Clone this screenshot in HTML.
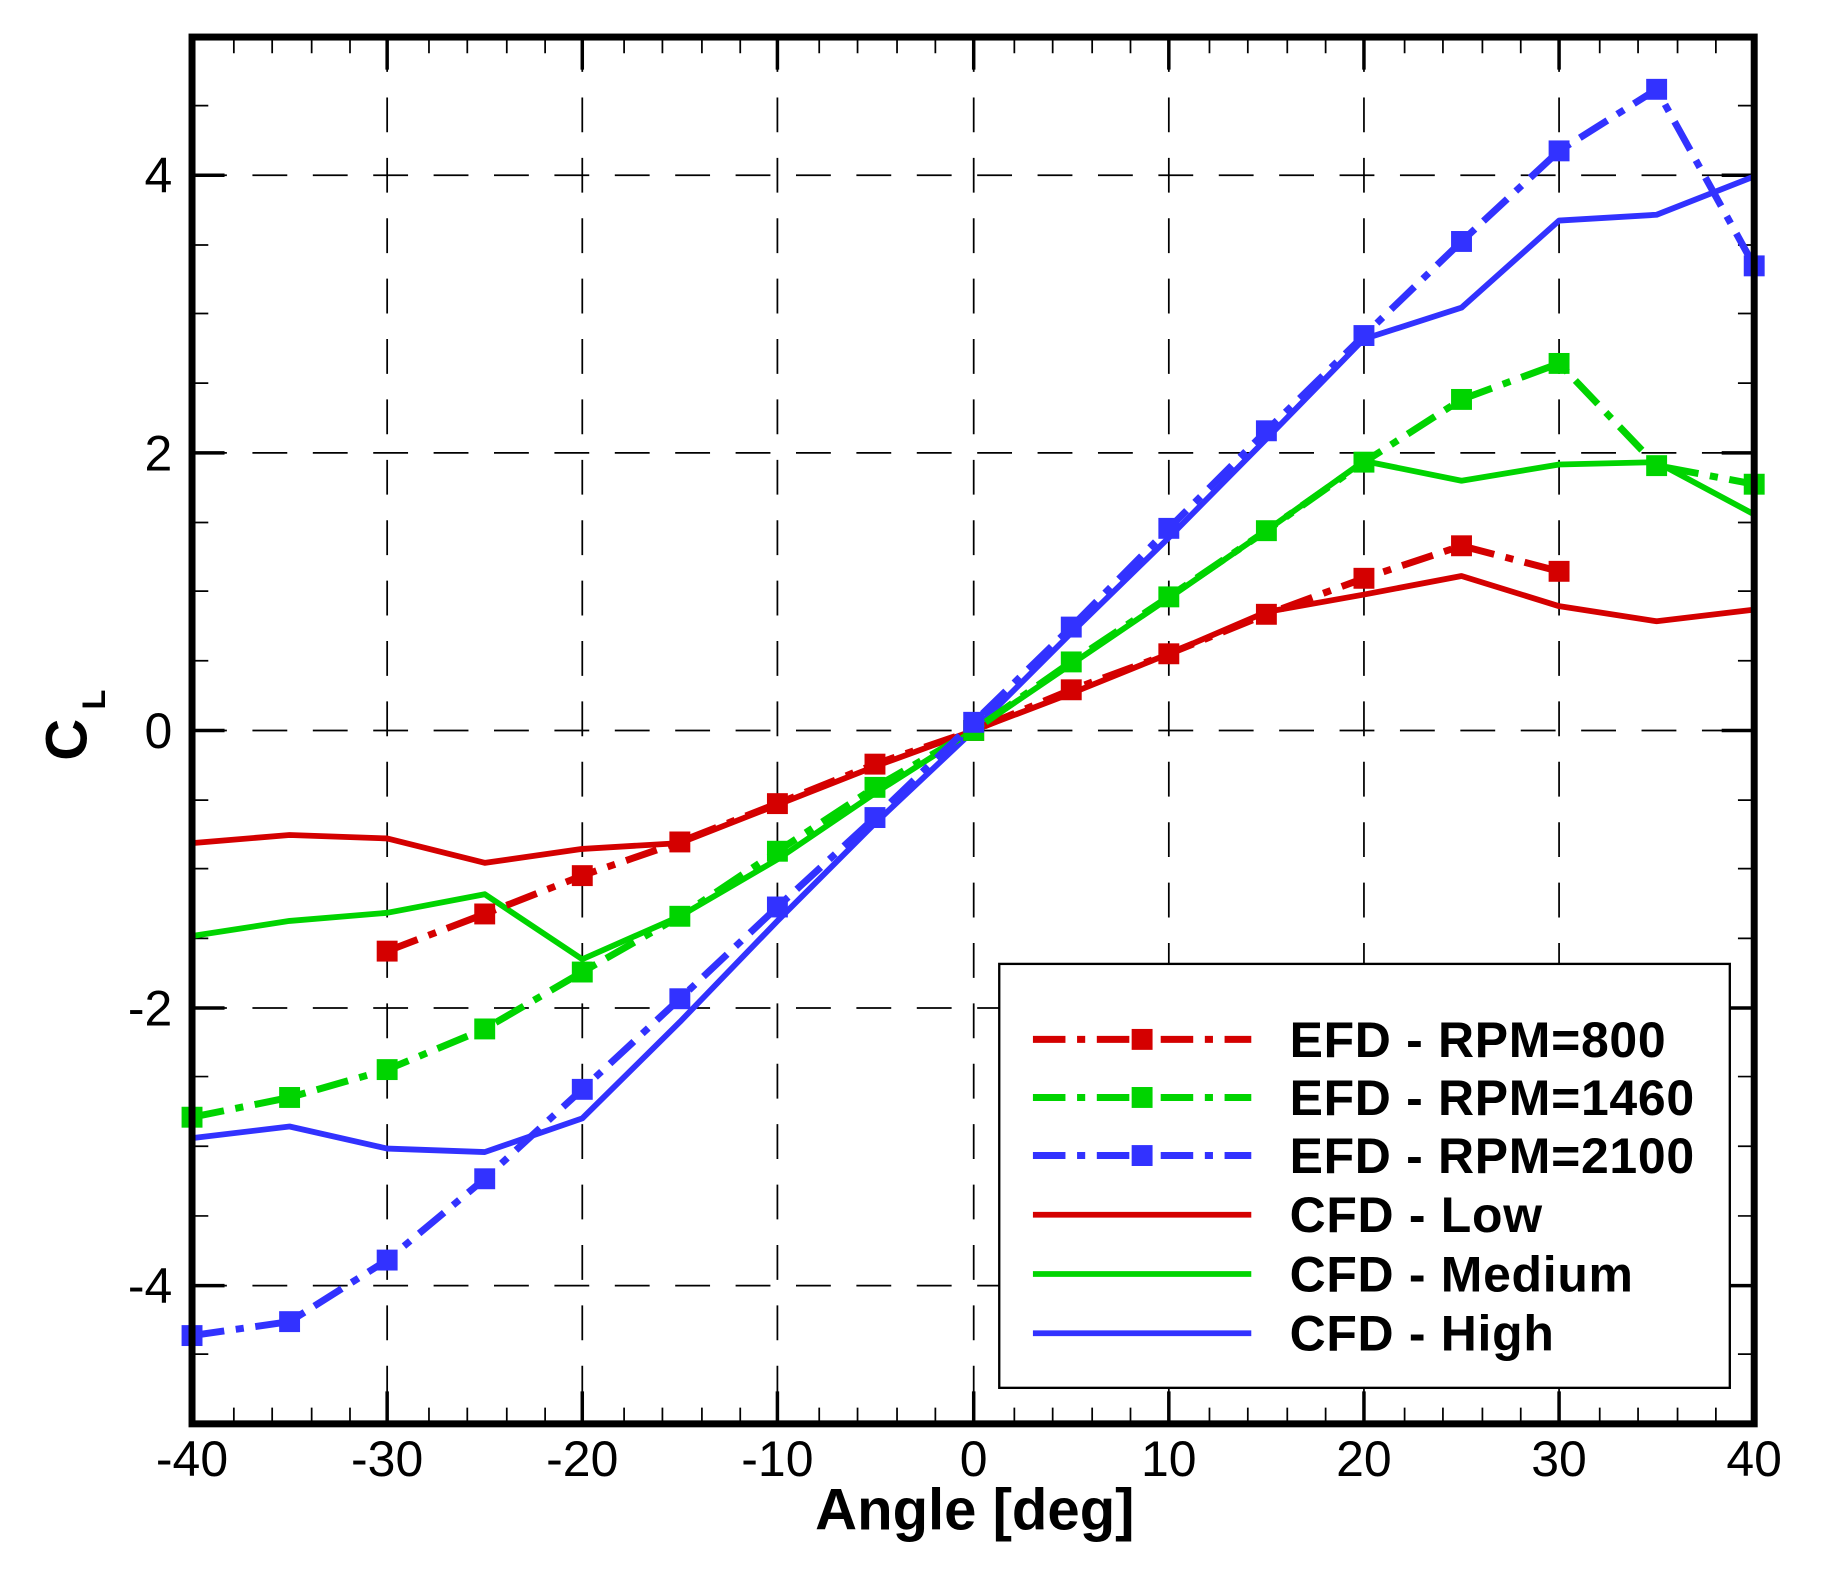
<!DOCTYPE html>
<html><head><meta charset="utf-8"><style>html,body{margin:0;padding:0;background:#fff}svg{display:block}</style></head>
<body>
<svg width="1823" height="1571" viewBox="-2.3 0.1 1569.5 1352.6" xmlns="http://www.w3.org/2000/svg" font-family="Liberation Sans, sans-serif">
<defs>
<g id="sq"><rect x="-9" y="-9" width="18" height="18"/></g>
</defs>
<rect x="-10" y="-10" width="1600" height="1400" fill="#fff"/>
<g stroke="#000" stroke-width="1.5" stroke-dasharray="30,22" fill="none">
<path d="M331,32V1226M499,32V1226M667,32V1226M836,32V1226M1004,32V1226M1172,32V1226M1340,32V1226"/>
<path d="M163,151H1508M163,390H1508M163,629H1508M163,868H1508M163,1107H1508"/>
</g>
<g stroke="#000" stroke-width="1.5">
<path d="M199,1226v-14M232,1226v-14M266,1226v-14M299,1226v-14M367,1226v-14M400,1226v-14M434,1226v-14M467,1226v-14M535,1226v-14M568,1226v-14M602,1226v-14M635,1226v-14M703,1226v-14M736,1226v-14M770,1226v-14M803,1226v-14M871,1226v-14M904,1226v-14M938,1226v-14M971,1226v-14M1039,1226v-14M1072,1226v-14M1106,1226v-14M1139,1226v-14M1207,1226v-14M1240,1226v-14M1274,1226v-14M1307,1226v-14M1375,1226v-14M1408,1226v-14M1442,1226v-14M1475,1226v-14"/>
<path d="M199,32v14M232,32v14M266,32v14M299,32v14M367,32v14M400,32v14M434,32v14M467,32v14M535,32v14M568,32v14M602,32v14M635,32v14M703,32v14M736,32v14M770,32v14M803,32v14M871,32v14M904,32v14M938,32v14M971,32v14M1039,32v14M1072,32v14M1106,32v14M1139,32v14M1207,32v14M1240,32v14M1274,32v14M1307,32v14M1375,32v14M1408,32v14M1442,32v14M1475,32v14"/>
<path d="M163,91h14M163,211h14M163,270h14M163,330h14M163,450h14M163,509h14M163,569h14M163,689h14M163,748h14M163,808h14M163,927h14M163,987h14M163,1047h14M163,1166h14"/>
<path d="M1508,91h-14M1508,211h-14M1508,270h-14M1508,330h-14M1508,450h-14M1508,509h-14M1508,569h-14M1508,689h-14M1508,748h-14M1508,808h-14M1508,927h-14M1508,987h-14M1508,1047h-14M1508,1166h-14"/>
</g>
<g stroke="#000" stroke-width="3">
<path d="M331,1226v-28M499,1226v-28M667,1226v-28M836,1226v-28M1004,1226v-28M1172,1226v-28M1340,1226v-28"/>
<path d="M331,32v28M499,32v28M667,32v28M836,32v28M1004,32v28M1172,32v28M1340,32v28"/>
<path d="M163,151h28M163,390h28M163,629h28M163,868h28M163,1107h28"/>
<path d="M1508,151h-28M1508,390h-28M1508,629h-28M1508,868h-28M1508,1107h-28"/>
</g>
<g fill="none" stroke-width="5" stroke-linejoin="round">
<polyline stroke="#d40000" points="163,726 247,719 331,722 415,743 499,731 583,726 667,693 751,660 836,629 920,597 1004,563 1088,527 1172,512 1256,496 1340,522 1424,535 1508,525"/>
<polyline stroke="#00d400" points="163,806 247,793 331,786 415,770 499,826 583,789 667,740 751,683 836,629 920,572 1004,515 1088,457 1172,397 1256,414 1340,400 1424,398 1508,443"/>
<polyline stroke="#3232ff" points="163,980 247,970 331,989 415,992 499,963 583,880 667,793 751,709 836,629 920,545 1004,463 1088,378 1172,292 1256,265 1340,190 1424,185 1508,152"/>
</g>
<g fill="none" stroke-width="6" stroke-dasharray="28,10,7,10">
<polyline stroke="#d40000" points="331,819 415,787 499,754 583,725 667,692 751,658 836,629 920,594 1004,563 1088,529 1172,498 1256,470 1340,492"/>
<polyline stroke="#00d400" points="163,962 247,945 331,921 415,886 499,837 583,789 667,733 751,678 836,629 920,570 1004,514 1088,457 1172,398 1256,344 1340,313 1424,401 1508,417"/>
<polyline stroke="#3232ff" points="163,1150 247,1138 331,1085 415,1015 499,938 583,860 667,781 751,704 836,622 920,540 1004,455 1088,371 1172,289 1256,208 1340,130 1424,77 1508,229"/>
</g>
<g fill="#d40000">
<use href="#sq" x="331" y="819"/><use href="#sq" x="415" y="787"/><use href="#sq" x="499" y="754"/><use href="#sq" x="583" y="725"/><use href="#sq" x="667" y="692"/><use href="#sq" x="751" y="658"/><use href="#sq" x="836" y="629"/><use href="#sq" x="920" y="594"/><use href="#sq" x="1004" y="563"/><use href="#sq" x="1088" y="529"/><use href="#sq" x="1172" y="498"/><use href="#sq" x="1256" y="470"/><use href="#sq" x="1340" y="492"/>
</g>
<g fill="#00d400">
<use href="#sq" x="163" y="962"/><use href="#sq" x="247" y="945"/><use href="#sq" x="331" y="921"/><use href="#sq" x="415" y="886"/><use href="#sq" x="499" y="837"/><use href="#sq" x="583" y="789"/><use href="#sq" x="667" y="733"/><use href="#sq" x="751" y="678"/><use href="#sq" x="836" y="629"/><use href="#sq" x="920" y="570"/><use href="#sq" x="1004" y="514"/><use href="#sq" x="1088" y="457"/><use href="#sq" x="1172" y="398"/><use href="#sq" x="1256" y="344"/><use href="#sq" x="1340" y="313"/><use href="#sq" x="1424" y="401"/><use href="#sq" x="1508" y="417"/>
</g>
<g fill="#3232ff">
<use href="#sq" x="163" y="1150"/><use href="#sq" x="247" y="1138"/><use href="#sq" x="331" y="1085"/><use href="#sq" x="415" y="1015"/><use href="#sq" x="499" y="938"/><use href="#sq" x="583" y="860"/><use href="#sq" x="667" y="781"/><use href="#sq" x="751" y="704"/><use href="#sq" x="836" y="622"/><use href="#sq" x="920" y="540"/><use href="#sq" x="1004" y="455"/><use href="#sq" x="1088" y="371"/><use href="#sq" x="1172" y="289"/><use href="#sq" x="1256" y="208"/><use href="#sq" x="1340" y="130"/><use href="#sq" x="1424" y="77"/><use href="#sq" x="1508" y="229"/>
</g>
<rect x="163" y="32" width="1345" height="1194" fill="none" stroke="#000" stroke-width="6"/>
<rect x="858" y="830" width="629" height="365" fill="#fff" stroke="#000" stroke-width="2"/>
<g fill="none" stroke-width="6">
<path d="M887,895H1075" stroke="#d40000" stroke-dasharray="28,10,7,10"/>
<path d="M887,945H1075" stroke="#00d400" stroke-dasharray="28,10,7,10"/>
<path d="M887,995H1075" stroke="#3232ff" stroke-dasharray="28,10,7,10"/>
<path d="M887,1046H1075" stroke="#d40000" stroke-width="5"/>
<path d="M887,1097H1075" stroke="#00d400" stroke-width="5"/>
<path d="M887,1148H1075" stroke="#3232ff" stroke-width="5"/>
</g>
<use href="#sq" x="981" y="895" fill="#d40000"/>
<use href="#sq" x="981" y="945" fill="#00d400"/>
<use href="#sq" x="981" y="995" fill="#3232ff"/>
<g font-size="43" font-weight="bold" fill="#000" letter-spacing="0.6">
<text x="1108" y="910">EFD - RPM=800</text>
<text x="1108" y="960">EFD - RPM=1460</text>
<text x="1108" y="1010">EFD - RPM=2100</text>
<text x="1108" y="1061">CFD - Low</text>
<text x="1108" y="1112">CFD - Medium</text>
<text x="1108" y="1163">CFD - High</text>
</g>
<g font-size="43" fill="#000" text-anchor="middle">
<text x="163" y="1271">-40</text><text x="331" y="1271">-30</text><text x="499" y="1271">-20</text><text x="667" y="1271">-10</text><text x="836" y="1271">0</text><text x="1004" y="1271">10</text><text x="1172" y="1271">20</text><text x="1340" y="1271">30</text><text x="1508" y="1271">40</text>
</g>
<g font-size="43" fill="#000" text-anchor="end">
<text x="146" y="166">4</text><text x="146" y="405">2</text><text x="146" y="644">0</text><text x="146" y="883">-2</text><text x="146" y="1122">-4</text>
</g>
<text x="837" y="1317" font-size="50" font-weight="bold" text-anchor="middle">Angle [deg]</text>
<g transform="translate(72,629) rotate(-90)" font-weight="bold">
<text x="-8" y="0" font-size="50" text-anchor="middle">C</text>
<text x="18" y="16" font-size="28">L</text>
</g>
</svg>
</body></html>
